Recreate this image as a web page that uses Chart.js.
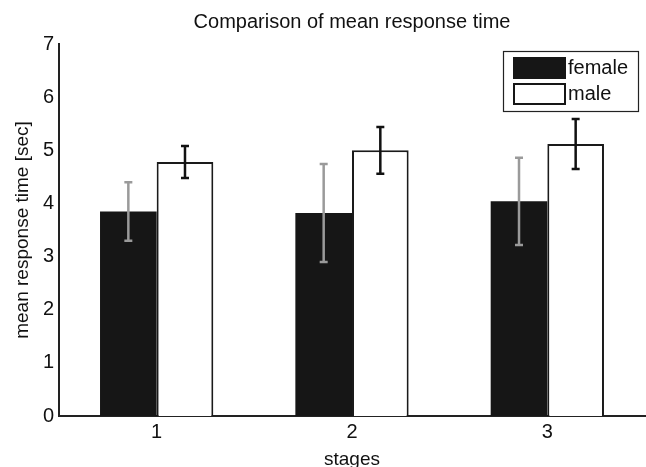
<!DOCTYPE html>
<html>
<head>
<meta charset="utf-8">
<script src="https://cdn.jsdelivr.net/npm/chart.js@4.4.0/dist/chart.umd.min.js"></script>
<style>
html,body{margin:0;padding:0;background:#fff;}
canvas{display:block;}
</style>
</head>
<body>
<canvas id="c" width="646" height="467"></canvas>
<script>
const categories = ["1", "2", "3"];
const femaleMean = [3.85, 3.82, 4.04];
const femaleErr = [0.55, 0.92, 0.82];
const maleMean = [4.78, 5.00, 5.12];
const maleErr = [0.30, 0.44, 0.47];
const yTicks = [0, 1, 2, 3, 4, 5, 6, 7];

const FONT = "'Liberation Sans', Arial, sans-serif";

const errorBars = {
  id: 'errorBars',
  afterDatasetsDraw(chart) {
    const ctx = chart.ctx;
    const y = chart.scales.y;
    chart.data.datasets.forEach((ds, i) => {
      const meta = chart.getDatasetMeta(i);
      meta.data.forEach((el, j) => {
        const m = ds.data[j], e = ds.errors[j];
        const top = y.getPixelForValue(m + e);
        const bot = y.getPixelForValue(m - e);
        ctx.save();
        ctx.strokeStyle = ds.errorColor;
        ctx.lineWidth = 2.5;
        ctx.beginPath();
        ctx.moveTo(el.x, top); ctx.lineTo(el.x, bot);
        ctx.moveTo(el.x - 4, top); ctx.lineTo(el.x + 4, top);
        ctx.moveTo(el.x - 4, bot); ctx.lineTo(el.x + 4, bot);
        ctx.stroke();
        ctx.restore();
      });
    });
  }
};

const boxLegend = {
  id: 'boxLegend',
  afterDraw(chart) {
    const ctx = chart.ctx;
    const a = chart.chartArea;
    const w = 135, h = 60;
    const x0 = a.right - 7 - w, y0 = a.top + 7;
    ctx.save();
    ctx.fillStyle = '#fff';
    ctx.fillRect(x0, y0, w, h);
    ctx.strokeStyle = '#222';
    ctx.lineWidth = 1.2;
    ctx.strokeRect(x0 + 0.5, y0 + 0.5, w, h);
    ctx.font = "20px " + FONT;
    ctx.textBaseline = 'middle';
    chart.data.datasets.forEach((ds, i) => {
      const sy = y0 + 6 + i * 26;
      ctx.fillStyle = ds.backgroundColor;
      ctx.fillRect(x0 + 10, sy, 53, 22);
      ctx.strokeStyle = '#161616';
      ctx.lineWidth = 2;
      ctx.strokeRect(x0 + 11, sy + 1, 51, 20);
      ctx.fillStyle = '#111';
      ctx.fillText(ds.label, x0 + 65, sy + 11);
    });
    ctx.restore();
  }
};

new Chart(document.getElementById('c'), {
  type: 'bar',
  data: {
    labels: categories,
    datasets: [
      { label: 'female', data: femaleMean, errors: femaleErr, errorColor: '#9a9a9a',
        backgroundColor: '#161616', borderColor: '#161616', borderWidth: 0,
        categoryPercentage: 0.58, barPercentage: 1.0 },
      { label: 'male', data: maleMean, errors: maleErr, errorColor: '#111',
        backgroundColor: '#ffffff', borderColor: '#1a1a1a', borderWidth: 2,
        categoryPercentage: 0.58, barPercentage: 1.0 }
    ]
  },
  options: {
    responsive: false,
    animation: false,
    devicePixelRatio: 1,
    layout: { padding: { top: 0, right: 1, bottom: 0, left: 0 } },
    plugins: {
      legend: { display: false },
      tooltip: { enabled: false },
      title: {
        display: true, fullSize: false,
        text: 'Comparison of mean response time',
        color: '#111',
        font: { family: FONT, size: 20, weight: 'normal' },
        padding: { top: 10, bottom: 10 }
      }
    },
    scales: {
      x: {
        grid: { display: false, drawTicks: false },
        border: { display: true, color: '#222', width: 2 },
        ticks: { color: '#111', font: { family: FONT, size: 20 }, padding: 4 },
        title: { display: true, text: 'stages', color: '#111',
                 font: { family: FONT, size: 19, lineHeight: 1 }, padding: { top: 0, bottom: -2 } },
        afterFit(s) { s.height = 51; }
      },
      y: {
        min: 0, max: 7,
        afterBuildTicks(s) { s.ticks = yTicks.map(v => ({ value: v })); },
        grid: { display: false, drawTicks: false },
        border: { display: true, color: '#222', width: 2 },
        ticks: { color: '#111', font: { family: FONT, size: 20 }, padding: 5 },
        title: { display: true, text: 'mean response time [sec]', color: '#111',
                 font: { family: FONT, size: 19 }, padding: { top: 11, bottom: 0 } },
        afterFit(s) { s.width = 59; }
      }
    }
  },
  plugins: [errorBars, boxLegend]
});
</script>
</body>
</html>
